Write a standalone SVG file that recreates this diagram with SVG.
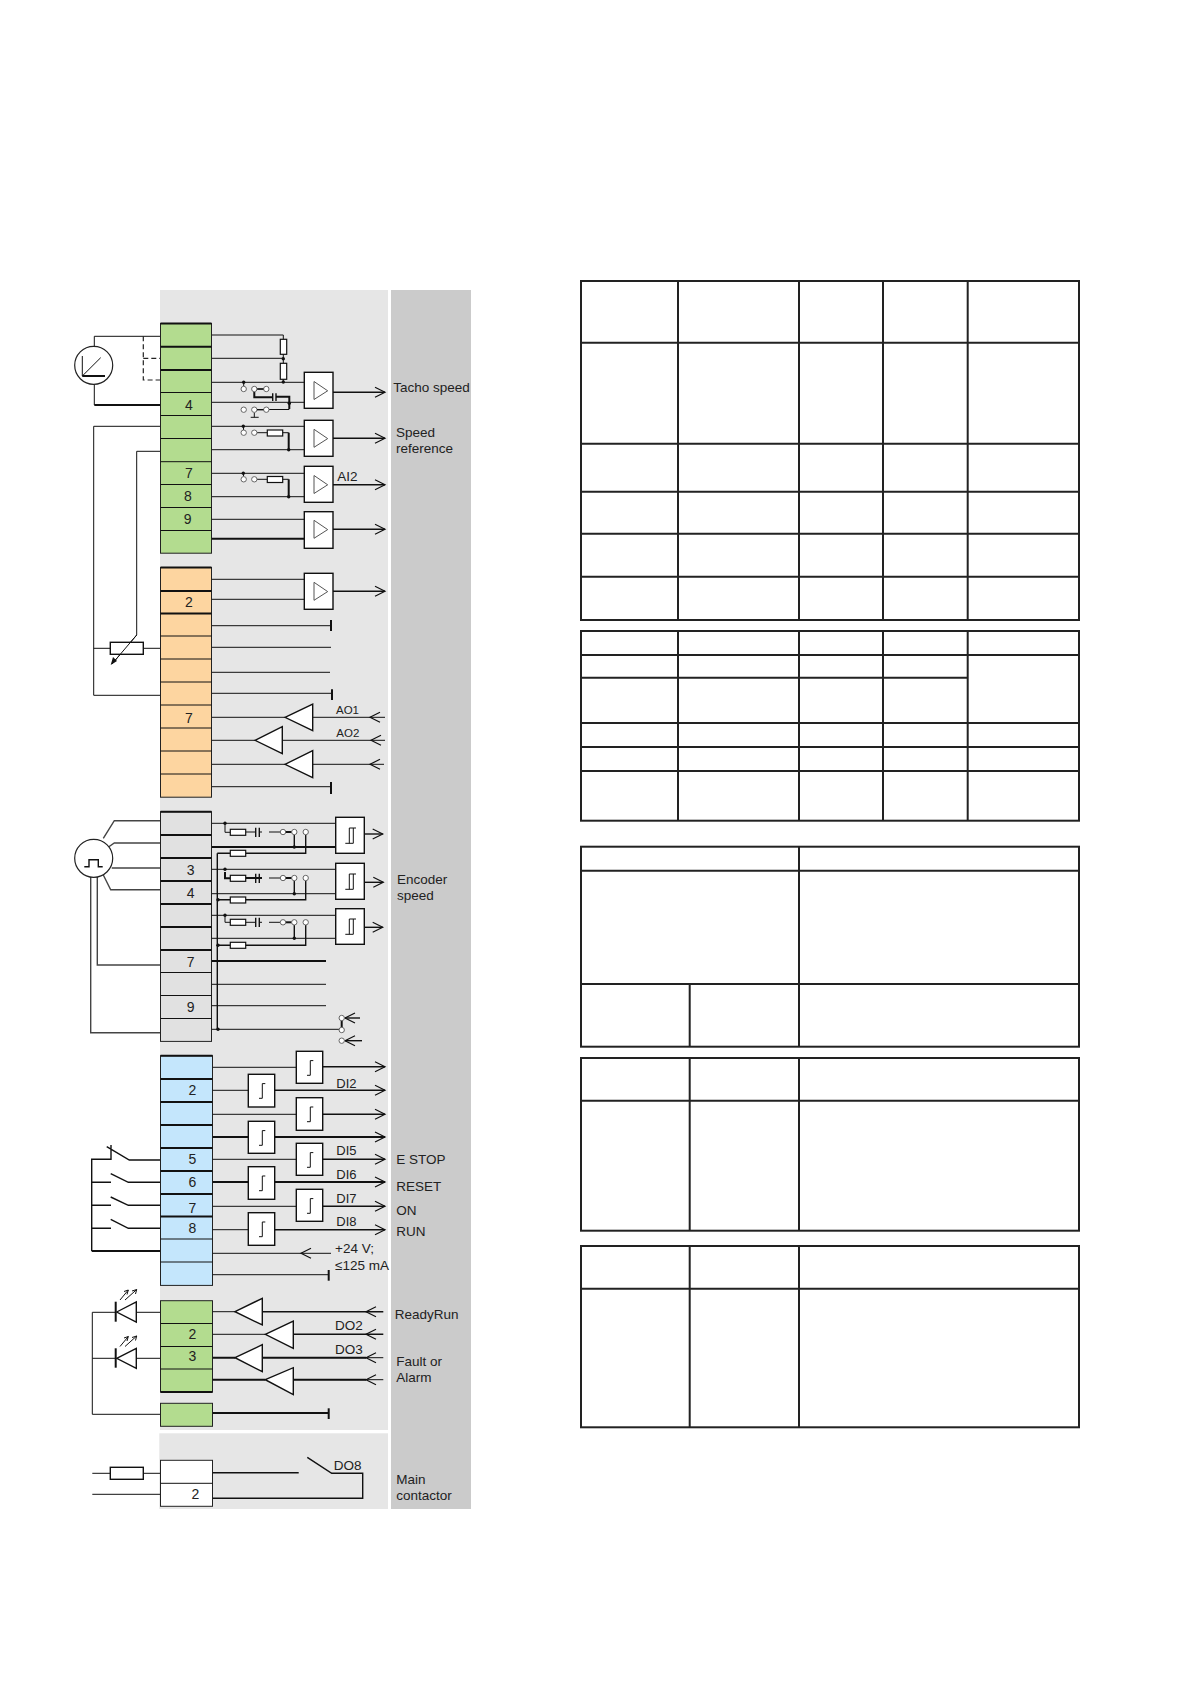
<svg xmlns="http://www.w3.org/2000/svg" xmlns:xlink="http://www.w3.org/1999/xlink" width="1191" height="1684" viewBox="0 0 1191 1684">
<style>
text{font-family:"Liberation Sans",Arial,sans-serif;font-size:13.5px;fill:#222}
.n{font-size:14px;text-anchor:middle}
.s{font-size:13px}
.a{font-size:11.5px}
.w{fill:none;stroke:#111;stroke-width:1}
.t{fill:none;stroke:#111;stroke-width:2}
.m{fill:none;stroke:#111;stroke-width:1.4}
.e{fill:none;stroke:#444;stroke-width:1.4}
.d{fill:none;stroke:#222;stroke-width:1.2;stroke-dasharray:5 3}
.o{marker-end:url(#h)}
.i{marker-mid:url(#h)}
.b{fill:#fff;stroke:#111;stroke-width:1.4}
.g{fill:#fff;stroke:#555;stroke-width:1}
.c{fill:#fff;stroke:#666;stroke-width:1}
.r{fill:#fff;stroke:#111;stroke-width:1.2}
.k{fill:#111;stroke:none}
.tb{fill:none;stroke:#222;stroke-width:2}
</style>
<defs>
<marker id="h" markerUnits="userSpaceOnUse" markerWidth="14" markerHeight="14" refX="11" refY="7" orient="auto" overflow="visible"><path d="M1 2L11 7L1 12" fill="none" stroke="#111" stroke-width="1.2"/></marker>
<path id="tri" class="g" d="M0 0L13.7 9.3L0 18Z"/>
<path id="hys" class="w" d="M0 15.3H8M4 15.3V0H10.7M8 15.3V0"/>
<path id="step" class="w" d="M10.7 24H14V9.3H17"/>
</defs>
<rect x="160" y="290" width="228" height="1140" fill="#e6e6e6"/>
<rect x="159.3" y="1433.3" width="228.7" height="75.7" fill="#e6e6e6"/>
<rect x="391" y="290" width="80" height="1219" fill="#cbcbcb"/>

<g id="terminals-analog-in">
<g fill="#b3dc8f" stroke="#222"><rect x="160.5" y="323.5" width="51" height="229.7"/></g>
<path class="t" d="M160.5 323.5H211.5M160.5 346.7H211.5M160.5 370H211.5"/>
<path class="w" d="M160.5 392.5H211.5M160.5 415.5H211.5M160.5 438.5H211.5M160.5 461.7H211.5M160.5 484.5H211.5M160.5 507.5H211.5M160.5 530.5H211.5"/>
<text class="n" x="189" y="410">4</text><text class="n" x="189" y="478">7</text><text class="n" x="188" y="501.3">8</text><text class="n" x="187.7" y="524">9</text>
</g>
<g id="terminals-analog-out">
<rect x="160.5" y="567.5" width="51" height="229.7" fill="#fdd5a0" stroke="#222"/>
<path class="t" d="M160.5 567.5H211.5M160.5 591H211.5M160.5 613.5H211.5"/>
<path class="w" d="M160.5 636H211.5M160.5 659H211.5M160.5 682H211.5M160.5 705H211.5M160.5 728H211.5M160.5 751H211.5M160.5 774H211.5"/>
<text class="n" x="189" y="607">2</text><text class="n" x="189" y="723">7</text>
</g>
<g id="terminals-encoder">
<rect x="160.5" y="811.7" width="51" height="229.7" fill="#e1e1e1" stroke="#222"/>
<path class="t" d="M160.5 811.7H211.5M160.5 835H211.5M160.5 858H211.5M160.5 881H211.5M160.5 904H211.5M160.5 927H211.5M160.5 950H211.5"/>
<path class="w" d="M160.5 972.5H211.5M160.5 995.5H211.5M160.5 1018.5H211.5"/>
<text class="n" x="190.7" y="874.7">3</text><text class="n" x="190.7" y="897.7">4</text><text class="n" x="190.7" y="966.7">7</text><text class="n" x="190.7" y="1012.3">9</text>
</g>
<g id="terminals-digital-in">
<rect x="160.5" y="1055.7" width="52" height="229.7" fill="#c4e6fc" stroke="#222"/>
<path class="t" d="M160.5 1055.7H212.5M160.5 1079H212.5M160.5 1102H212.5M160.5 1125H212.5M160.5 1148H212.5M160.5 1171H212.5M160.5 1194H212.5M160.5 1216.5H212.5"/>
<path class="w" d="M160.5 1239H212.5M160.5 1262H212.5"/>
<text class="n" x="192.3" y="1095">2</text><text class="n" x="192.3" y="1164">5</text><text class="n" x="192.3" y="1187">6</text><text class="n" x="192.3" y="1212.7">7</text><text class="n" x="192.3" y="1233.3">8</text>
</g>
<g id="terminals-digital-out">
<rect x="160.5" y="1300.7" width="52" height="91.3" fill="#b3dc8f" stroke="#222"/>
<path class="w" d="M160.5 1323.5H212.5M160.5 1346.5H212.5M160.5 1369H212.5"/>
<path class="t" d="M160.5 1392H212.5"/>
<rect x="160.5" y="1403.3" width="52" height="23" fill="#b3dc8f" stroke="#222"/>
<text class="n" x="192.3" y="1338.7">2</text><text class="n" x="192.3" y="1361.3">3</text>
</g>
<g id="terminals-relay">
<rect x="160.5" y="1460.3" width="52" height="46" fill="#fff" stroke="#222"/>
<path class="w" d="M160.5 1483.3H212.5"/>
<text class="n" x="195.3" y="1499.3">2</text>
</g>

<g id="connectors">
<path class="w" d="M94.3 346V336.3H160M94.3 384.3V405"/><path class="t" d="M94.3 405H160"/>
<path class="d" d="M143.3 336.3V380H160M143.3 358.3H160"/>
<path class="w" d="M93.7 426.3H160M93.7 426.3V695.3H160M160 451.3H136.7V635L112 664"/>
<path class="k" d="M110.7 665L113 657L117 661Z"/>
<path class="w" d="M93.7 648.3H110.3M143.3 648.3H160"/>

<path class="w" d="M212 335H283.3V382M212 358.3H283.3M212 382.3H304.3M212 402.3H304.3"/>
<path class="m o" d="M333 392.3H385"/>
<path class="w" d="M243.7 382.3V386M258 389H263"/>
<path class="t" d="M254.3 392V397.3H272.3M276 396.7H289.3V409"/>
<path class="m" d="M272.7 393.3V401M276 393.3V401"/>
<path class="w" d="M269 409.5H289.3M254.3 412.5V417.3M250.7 417.3H258.7"/>

<path class="w" d="M212 426.3H304.3M212 449.7H304.3M243.5 426.3V430M257 432.7H267.3M282.7 432.7H288.7"/>
<path class="t" d="M288.7 432.7V449.7"/>
<path class="m o" d="M333 438.3H385"/>
<path class="w" d="M212 473.3H304.3M212 496.7H304.3M243.5 473.3V476.5M257 479.3H267.3M282.7 479.3H288.7"/>
<path class="t" d="M288.7 479.3V496.7"/>
<path class="m o" d="M333 484.7H385"/>
<path class="w" d="M212 519.3H304.3"/><path class="t" d="M212 538.7H304.3"/>
<path class="m o" d="M333 529.3H385"/>

<path class="w" d="M212 579.3H304.3M212 599.3H304.3"/>
<path class="m o" d="M333 591.3H385"/>
<path class="w" d="M212 625.7H331M212 647.3H331M212 672.3H330M212 693.3H332M212 786.7H331"/>
<path class="t" d="M331 620V631M332 689.3V700M331 782V794"/>
<path class="w" d="M212 717.3H285M212 740.3H255M212 764.3H285"/>
<path class="w i" d="M385 717.3H370H312.7"/>
<path class="w i" d="M385 740.3H371H282.3"/>
<path class="w i" d="M384 764.3H370H312.7"/>

<path class="e" d="M103.3 838.3L114.3 820.7H160M106.7 848.3L114.3 843H160M111.7 868H160M103.3 875L110.7 889.7H160M97.3 876.7V965H160M90.7 876.7V1032.7H160"/>

<path class="w" d="M212 823.3H335.7M225 823.3V832.3H230.3M245.7 832H255.7M259.3 832H262M269 832H280.3"/>
<path class="t" d="M212 847H335.7M285 832H292"/>
<path class="m" d="M217.3 853.3H230.3M217.3 853.3V1029.3M255.7 827.7V837M259.3 827.7V837M294.3 834.7V847M305.7 834.7V853.3H245.7"/>
<path class="m o" d="M364.3 834H382.7"/>

<path class="w" d="M212 869.3H335.7M212 893.7H335.7M269 878H280.3"/>
<path class="t" d="M245.7 878H262M225 872V878.3H230.3M285 878H292"/>
<path class="m" d="M255.7 873.7V883M259.3 873.7V883M294.3 880.7V893.7M305.7 880.7V899.7H245.7M217.3 899.7H230.3"/>
<path class="m o" d="M364.3 882.3H383.3"/>

<path class="w" d="M212 915.3H335.7M212 938.3H335.7M225 915.3V922.3H230.3M245.7 922.3H255.7M259.3 922.3H262M269 922.3H280.3"/>
<path class="t" d="M285 922.3H292"/>
<path class="m" d="M255.7 917.7V927M259.3 917.7V927M294.3 925V938.3M305.7 925V945.3H245.7M217.3 945.3H230.3"/>
<path class="m o" d="M364.3 927.3H382.7"/>

<path class="t" d="M212 961H326"/>
<path class="w" d="M212 984.3H326M212 1005.7H326M212 1029.3H339"/>
<path class="t" d="M341.7 1020V1028"/>
<path class="m o" d="M360 1018H345"/><path class="m o" d="M362 1040.7H345"/>

<path class="w" d="M212.7 1067.3H296.3M212.7 1090.3H248.3M212.7 1114.3H296.3M212.7 1159.3H296.3M212.7 1206.3H296.3M212.7 1229.7H248.3"/>
<path class="t" d="M212.7 1137H248.3M212.7 1182H248.3"/>
<path class="m o" d="M322.7 1066.7H385"/><path class="m o" d="M274.7 1090.3H385"/><path class="m o" d="M322.7 1114.3H385"/>
<path class="t o" d="M274.7 1137H385"/><path class="m o" d="M322.7 1159.3H385"/><path class="t o" d="M274.7 1182H385"/>
<path class="m o" d="M322.7 1206.3H385"/><path class="m o" d="M274.7 1229.7H385"/>
<path class="w i" d="M331 1253.3H301H212.7"/>
<path class="w" d="M212.7 1274.7H328.7"/><path class="t" d="M328.7 1270V1280.7"/>

<path class="m" d="M91.7 1251V1159.3H111V1145M106.7 1146.7L129.3 1160H160M91.7 1182.3H111M110.7 1173.7L128.3 1182.3H160M91.7 1205.3H111M110.7 1197L128.3 1205.3H160M91.7 1228.3H111M110.7 1219.3L128.3 1228.3H160"/>
<path class="t" d="M91.7 1251H160"/>

<path class="w" d="M92.3 1312.3V1414.3H160M92.3 1312.3H115.7M136.3 1312.3H160M92.3 1358.3H115.7M136.3 1358.3H160"/>
<path class="w" d="M212.7 1311.7H235M212.7 1334.3H265.3"/>
<path class="t" d="M212.7 1357.7H235M212.7 1379.7H265.3M262.3 1357.7H366M293.3 1379.7H366"/>
<path class="m i" d="M383.3 1311.7H366H262.3"/>
<path class="m i" d="M383.3 1334.3H366H293.3"/>
<path class="w i" d="M383.3 1357.7H366H340"/>
<path class="w i" d="M383.3 1379.7H366H340"/>
<path class="t" d="M212.7 1413H328.7"/><path class="t" d="M328.7 1408.3V1419"/>

<path class="w" d="M92.3 1473.3H110.3M143.3 1473.3H160M92.3 1494.3H160"/>
<path class="m" d="M212.7 1472.7H298.7M307.3 1457.3L331.7 1473.3H362.7V1498.3H212.7"/>
</g>

<g id="tacho"><circle cx="93.7" cy="365.3" r="19" fill="#fff" stroke="#222" stroke-width="1.2"/>
<path class="w" d="M82.3 356V376M100.7 357.7L82.3 376"/><path class="t" d="M82.3 376H105"/></g>
<g id="divider-r1"><rect class="r" x="280.3" y="339.3" width="6.4" height="15"/><rect class="r" x="280.3" y="363.3" width="6.4" height="16"/>
<circle class="k" cx="283.3" cy="358.7" r="1.7"/><circle class="k" cx="283.3" cy="382" r="1.7"/></g>
<g id="tacho-switches">
<circle class="k" cx="243.7" cy="382.3" r="1.7"/><circle class="c" cx="243.7" cy="389" r="2.7"/><circle class="c" cx="254.3" cy="389" r="2.7"/><circle class="c" cx="266.3" cy="389" r="2.7"/>
<path class="m" d="M257 389H263.6"/><circle class="k" cx="289.3" cy="403.3" r="1.7"/>
<circle class="c" cx="243.7" cy="409.7" r="2.7"/><circle class="c" cx="254.3" cy="409.7" r="2.7"/><circle class="c" cx="266.3" cy="409.7" r="2.7"/><path class="m" d="M257 409.7H263.6"/></g>
<g id="speed-switches"><circle class="k" cx="243.3" cy="426.3" r="1.7"/><circle class="c" cx="243.7" cy="432.7" r="2.7"/><circle class="c" cx="254.3" cy="432.7" r="2.7"/><rect class="r" x="267.3" y="430" width="15.4" height="6"/><circle class="k" cx="288.7" cy="449.7" r="1.7"/></g>
<g id="ai2-switches"><circle class="k" cx="243.3" cy="473.3" r="1.7"/><circle class="c" cx="243.7" cy="479.3" r="2.7"/><circle class="c" cx="254.3" cy="479.3" r="2.7"/><rect class="r" x="267.3" y="476.5" width="15.4" height="6"/><circle class="k" cx="288.7" cy="496.7" r="1.7"/></g>
<g id="amp1"><rect class="b" x="304.3" y="372.3" width="28.7" height="36"/><use xlink:href="#tri" href="#tri" x="314" y="381.5"/></g>
<g id="amp2"><rect class="b" x="304.3" y="420.3" width="28.7" height="36"/><use xlink:href="#tri" href="#tri" x="314" y="429.3"/></g>
<g id="amp3"><rect class="b" x="304.3" y="466.3" width="28.7" height="36"/><use xlink:href="#tri" href="#tri" x="314" y="475.5"/></g>
<g id="amp4"><rect class="b" x="304.3" y="511.7" width="28.7" height="36.6"/><use xlink:href="#tri" href="#tri" x="314" y="520.3"/></g>
<g id="amp5"><rect class="b" x="304.3" y="573.3" width="28.7" height="36"/><use xlink:href="#tri" href="#tri" x="314" y="582.3"/></g>
<g id="pot"><rect class="b" x="110.3" y="642.3" width="33" height="12"/><path class="w" d="M136.7 635L112 664"/></g>
<g id="ao1-buffer"><path class="b" d="M285 717.3L312.7 704V730.7Z"/></g>
<g id="ao2-buffer"><path class="b" d="M255 740.3L282.3 726.7V753.7Z"/></g>
<g id="ao3-buffer"><path class="b" d="M285 764.3L312.7 750.7V777.7Z"/></g>

<g id="encoder-pulse"><circle cx="93.7" cy="858.3" r="19" fill="#fff" stroke="#222" stroke-width="1.2"/><path class="m" d="M84.3 866.7H89V859.7H98.3V866.7H102.7"/></g>
<g id="encoder-a">
<circle class="k" cx="225" cy="823.3" r="1.7"/><rect class="r" x="230.3" y="829.3" width="15.4" height="6"/><rect class="r" x="230.3" y="850.3" width="15.4" height="6"/>
<circle class="c" cx="283" cy="832" r="2.7"/><circle class="c" cx="294.3" cy="832" r="2.7"/><circle class="c" cx="305.7" cy="832" r="2.7"/><circle class="k" cx="294.3" cy="847" r="1.7"/>
<rect class="b" x="335.7" y="817.3" width="28.6" height="36"/><use xlink:href="#hys" href="#hys" x="345.3" y="828"/></g>
<g id="encoder-b">
<circle class="k" cx="225" cy="869.3" r="1.7"/><rect class="r" x="230.3" y="875.3" width="15.4" height="6"/><rect class="r" x="230.3" y="897" width="15.4" height="6"/>
<circle class="c" cx="283" cy="878" r="2.7"/><circle class="c" cx="294.3" cy="878" r="2.7"/><circle class="c" cx="305.7" cy="878" r="2.7"/><circle class="k" cx="294.3" cy="893.7" r="1.7"/><circle class="k" cx="218" cy="899.7" r="1.7"/>
<rect class="b" x="335.7" y="863.3" width="28.6" height="36"/><use xlink:href="#hys" href="#hys" x="345.3" y="874"/></g>
<g id="encoder-z">
<circle class="k" cx="225" cy="915.3" r="1.7"/><rect class="r" x="230.3" y="919.3" width="15.4" height="6"/><rect class="r" x="230.3" y="942.3" width="15.4" height="6"/>
<circle class="c" cx="283" cy="922.3" r="2.7"/><circle class="c" cx="294.3" cy="922.3" r="2.7"/><circle class="c" cx="305.7" cy="922.3" r="2.7"/><circle class="k" cx="294.3" cy="938.3" r="1.7"/><circle class="k" cx="218" cy="945.3" r="1.7"/>
<rect class="b" x="335.7" y="908.7" width="28.6" height="35.6"/><use xlink:href="#hys" href="#hys" x="345.3" y="919"/></g>
<g id="encoder-supply"><circle class="k" cx="218" cy="1029.3" r="1.7"/><circle class="c" cx="341.7" cy="1018" r="2.7"/><circle class="c" cx="341.7" cy="1030" r="2.7"/><circle class="c" cx="341.7" cy="1040.7" r="2.7"/></g>

<g id="di1"><rect class="b" x="296.3" y="1051.3" width="26.4" height="32"/><use xlink:href="#step" href="#step" x="296.3" y="1051.3"/></g>
<g id="di2"><rect class="b" x="248.3" y="1074.3" width="26.4" height="32.7"/><use xlink:href="#step" href="#step" x="248.3" y="1074.3"/></g>
<g id="di3"><rect class="b" x="296.3" y="1097.7" width="26.4" height="32.6"/><use xlink:href="#step" href="#step" x="296.3" y="1097.7"/></g>
<g id="di4"><rect class="b" x="248.3" y="1121.3" width="26.4" height="32"/><use xlink:href="#step" href="#step" x="248.3" y="1121.3"/></g>
<g id="di5"><rect class="b" x="296.3" y="1143.3" width="26.4" height="32"/><use xlink:href="#step" href="#step" x="296.3" y="1143.3"/></g>
<g id="di6"><rect class="b" x="248.3" y="1166.7" width="26.4" height="32.6"/><use xlink:href="#step" href="#step" x="248.3" y="1166.7"/></g>
<g id="di7"><rect class="b" x="296.3" y="1189.3" width="26.4" height="32"/><use xlink:href="#step" href="#step" x="296.3" y="1189.3"/></g>
<g id="di8"><rect class="b" x="248.3" y="1212.7" width="26.4" height="32.6"/><use xlink:href="#step" href="#step" x="248.3" y="1212.7"/></g>

<g id="led1"><path class="b" d="M116.7 1312L136.3 1302V1322Z"/><path class="t" d="M115.7 1301.7V1321.7"/><path class="w" d="M120 1300L128.3 1290M125 1300L136.7 1289.5M128.3 1290L124 1291.5M128.3 1290L127 1294.5M136.7 1289.5L132 1291M136.7 1289.5L135.5 1294"/></g>
<g id="led2"><path class="b" d="M116.7 1358.3L136.3 1348.3V1368.3Z"/><path class="t" d="M115.7 1348.3V1367.7"/><path class="w" d="M120 1346.5L128.3 1336.5M125 1346.5L136.7 1336M128.3 1336.5L124 1338M128.3 1336.5L127 1341M136.7 1336L132 1337.5M136.7 1336L135.5 1340.5"/></g>
<g id="do1-buffer"><path class="b" d="M235 1311.7L262.3 1298.3V1325Z"/></g>
<g id="do2-buffer"><path class="b" d="M265.3 1334.3L293.3 1321V1348.3Z"/></g>
<g id="do3-buffer"><path class="b" d="M235 1357.7L262.3 1344.7V1371.7Z"/></g>
<g id="do4-buffer"><path class="b" d="M265.3 1379.7L293.3 1367.7V1394.7Z"/></g>
<g id="relay-resistor"><rect class="b" x="110.3" y="1467.3" width="33" height="12"/></g>

<g id="labels">
<text x="393.3" y="391.7">Tacho speed</text>
<text x="396" y="437.3">Speed</text><text x="396" y="453.3">reference</text>
<text x="337.3" y="481">AI2</text>
<text class="a" x="336" y="713.5">AO1</text><text class="a" x="336.3" y="736.7">AO2</text>
<text x="397" y="884">Encoder</text><text x="397" y="900">speed</text>
<text class="s" x="336.3" y="1087.7">DI2</text><text class="s" x="336.3" y="1155.3">DI5</text><text class="s" x="336.3" y="1178.7">DI6</text><text class="s" x="336.3" y="1202.7">DI7</text><text class="s" x="336.3" y="1225.7">DI8</text>
<text x="396.3" y="1164.3">E STOP</text><text x="396.3" y="1191.3">RESET</text><text x="396.3" y="1215">ON</text><text x="396.3" y="1236">RUN</text>
<text x="335" y="1253">+24 V;</text><text x="335" y="1270">≤125 mA</text>
<text x="394.7" y="1319">ReadyRun</text>
<text x="335" y="1330">DO2</text><text x="335" y="1354">DO3</text>
<text x="396.3" y="1365.7">Fault or</text><text x="396.3" y="1382">Alarm</text>
<text x="333.7" y="1470">DO8</text>
<text x="396.3" y="1484">Main</text><text x="396.3" y="1500">contactor</text>
</g>

<g id="table-1"><rect class="tb" x="581" y="281" width="498" height="339"/>
<path class="tb" d="M678 281V620M799 281V620M883 281V620M967.7 281V620M581 342.7H1079M581 443.7H1079M581 491.7H1079M581 533.7H1079M581 576.7H1079"/></g>
<g id="table-2"><rect class="tb" x="581" y="631" width="498" height="189.7"/>
<path class="tb" d="M678 631V820.7M799 631V820.7M883 631V820.7M967.7 631V820.7M581 655H1079M581 677.7H967.7M581 723H1079M581 747H1079M581 771H1079"/></g>
<g id="table-3"><rect class="tb" x="581" y="846.7" width="498" height="200"/>
<path class="tb" d="M799 846.7V1046.7M689.7 984V1046.7M581 870.7H1079M581 984H1079"/></g>
<g id="table-4"><rect class="tb" x="581" y="1058" width="498" height="172.7"/>
<path class="tb" d="M689.7 1058V1230.7M799 1058V1230.7M581 1100.7H1079"/></g>
<g id="table-5"><rect class="tb" x="581" y="1246" width="498" height="181.3"/>
<path class="tb" d="M689.7 1246V1427.3M799 1246V1427.3M581 1288.7H1079"/></g>
</svg>
